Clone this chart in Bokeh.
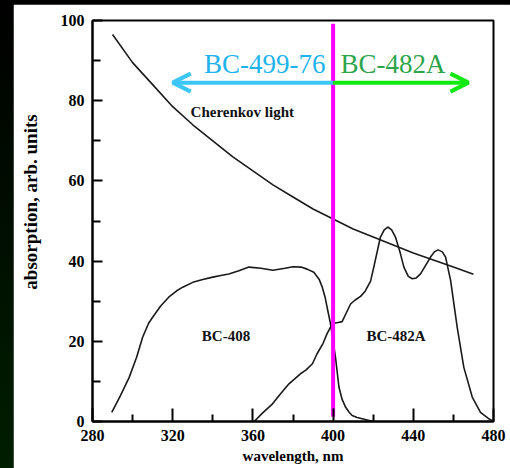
from bokeh.plotting import figure
from bokeh.models import Range1d, FixedTicker, Arrow, OpenHead, Label
from bokeh.layouts import column
from bokeh.embed import file_html
from bokeh.resources import INLINE

# ---- data ----
cher_wl = [290, 300, 310, 320, 330, 340, 350, 360, 370, 380, 390, 400, 410, 420, 430, 440, 450, 460, 470]
cher_abs = [96.5, 89.5, 84, 78.5, 74, 70, 66, 62.5, 59, 56, 53, 50.5, 48, 46, 44, 42, 40.3, 38.5, 36.7]

bc408_wl = [289.6, 294, 298.3, 302, 305, 308, 310, 314, 318, 322, 325, 330, 335, 340, 344, 348, 353, 358,
            364, 370, 376, 380, 384, 387, 390.4, 393, 394.6, 396, 397, 398.7, 400, 401.2, 402.9,
            404.5, 406.2, 408, 409.5, 412, 414.5, 420]
bc408_abs = [2.3, 6.5, 11, 16, 21, 24.5, 26, 28.8, 31, 32.6, 33.5, 34.7, 35.4, 36, 36.4, 36.8, 37.6, 38.5,
             38.2, 37.7, 38.2, 38.6, 38.5, 38, 37.2, 35.5, 33.5, 31, 28.5, 24.4, 20, 16, 8.6,
             5.5, 3.6, 2.3, 1.5, 1.0, 0.7, 0]

bc482_wl = [360.6, 365, 369.8, 373.8, 378, 383.7, 386.4, 389.7, 392, 395, 397, 399, 400.4, 402.5,
            404.5, 406.5, 408.7, 411, 413.7, 416, 418.7, 420.3, 423.6, 425.5, 427.3, 429.2, 431.1,
            433.5, 435.3, 437.5, 439.5, 441.5, 443.6, 446, 448.6, 450.5, 452.3, 454.5, 456.1,
            458.6, 461.9, 465.2, 469.4, 473.5, 477.6, 480]
bc482_abs = [0, 2.2, 4.4, 6.9, 9.4, 11.9, 12.8, 14.4, 16.9, 19.5, 21.9, 23.8, 24.5, 24.7,
             24.9, 27, 29.3, 30.3, 31.2, 32.5, 35, 38.5, 46, 47.8, 48.5, 47.8, 46,
             42, 38.5, 36.2, 35.6, 35.8, 36.8, 38.8, 41, 42.3, 42.8, 42.3, 41,
             35.2, 23.5, 13.5, 6.1, 2.3, 0.7, 0]

x_ticks = [280, 320, 360, 400, 440, 480]
x_minor = [300, 340, 380, 420, 460]
y_ticks = [0, 20, 40, 60, 80, 100]
y_minor = [10, 30, 50, 70, 90]

divider_wl = 400
arrow_level = 84.5
arrow_left_end = 320
arrow_right_end = 467.5

SERIF = "Liberation Serif"

p = figure(width=497, height=464, output_backend="svg", toolbar_location=None,
           x_range=Range1d(280, 480), y_range=Range1d(0, 100),
           min_border_left=79, min_border_right=17, min_border_top=16, min_border_bottom=47,
           background_fill_color="white", border_fill_color="white")
p.margin = (4, 0, 0, 13)
p.xgrid.visible = False
p.ygrid.visible = False
p.outline_line_color = "black"
p.outline_line_width = 2

for ax in (p.xaxis[0], p.yaxis[0]):
    ax.axis_line_width = 2
    ax.major_tick_line_width = 2
    ax.minor_tick_line_width = 2
    ax.major_tick_out = 0
    ax.minor_tick_out = 0
    ax.major_label_text_font = SERIF
    ax.major_label_text_font_style = "bold"
    ax.major_label_text_font_size = "16px"
    ax.major_label_text_color = "black"
    ax.axis_label_text_font = SERIF
    ax.axis_label_text_font_style = "bold"
    ax.axis_label_text_color = "black"

p.xaxis.ticker = FixedTicker(ticks=x_ticks, minor_ticks=x_minor)
p.yaxis.ticker = FixedTicker(ticks=y_ticks, minor_ticks=y_minor)
p.xaxis.major_tick_in = 13
p.xaxis.minor_tick_in = 7
p.yaxis.major_tick_in = 10
p.yaxis.minor_tick_in = 8
p.xaxis.major_label_standoff = 8
p.yaxis.major_label_standoff = 8

p.xaxis.axis_label = "wavelength, nm"
p.xaxis.axis_label_text_font_size = "15px"
p.xaxis.axis_label_standoff = 4

# leading no-break spaces move the rotated label upward, as in the reference
p.yaxis.axis_label = "\u00a0" * 8 + "absorption, arb. units"
p.yaxis.axis_label_text_font_size = "19px"
p.yaxis.axis_label_standoff = 17

line_color = "#1a1a1a"
p.line(cher_wl, cher_abs, line_color=line_color, line_width=1.6)
p.line(bc408_wl, bc408_abs, line_color=line_color, line_width=1.6)
p.line(bc482_wl, bc482_abs, line_color=line_color, line_width=1.6)

# magenta divider
p.segment(x0=[divider_wl], y0=[1.2], x1=[divider_wl], y1=[99.2], line_color="#ff00ff", line_width=4)

cyan = "#3cc6f7"
green = "#12e812"
p.add_layout(Arrow(x_start=divider_wl, y_start=arrow_level, x_end=arrow_left_end, y_end=arrow_level,
                   line_color=cyan, line_width=4,
                   end=OpenHead(size=18, line_color=cyan, line_width=4)))
p.add_layout(Arrow(x_start=divider_wl, y_start=arrow_level, x_end=arrow_right_end, y_end=arrow_level,
                   line_color=green, line_width=4,
                   end=OpenHead(size=18, line_color=green, line_width=4)))

p.add_layout(Label(x=396.2, y=89.2, text="BC-499-76", text_align="right", text_baseline="middle",
                   text_font=SERIF, text_font_size="27px", text_color="#1eb3ec"))
p.add_layout(Label(x=403.7, y=89.2, text="BC-482A", text_align="left", text_baseline="middle",
                   text_font=SERIF, text_font_size="27px", text_color="#2ea44c"))

p.add_layout(Label(x=328.9, y=77.1, text="Cherenkov light", text_align="left", text_baseline="middle",
                   text_font=SERIF, text_font_style="bold", text_font_size="15px", text_color="#111111"))
p.add_layout(Label(x=346.6, y=21.2, text="BC-408", text_align="center", text_baseline="middle",
                   text_font=SERIF, text_font_style="bold", text_font_size="15px", text_color="#111111"))
p.add_layout(Label(x=431.4, y=21.2, text="BC-482A", text_align="center", text_baseline="middle",
                   text_font=SERIF, text_font_style="bold", text_font_size="15px", text_color="#111111"))

layout = column(p, width=510, height=468,
                styles={"background": "linear-gradient(to bottom, #000000 0%, #001e00 100%)"})

open("out.html", "w").write(file_html(layout, INLINE))
